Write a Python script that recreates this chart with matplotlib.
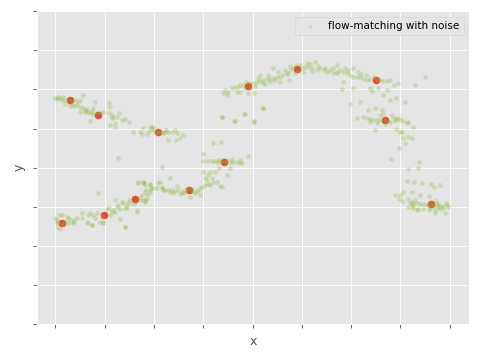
import matplotlib
matplotlib.use("Agg")
import matplotlib.pyplot as plt

plt.style.use("ggplot")

# reference (target) points
rx = [0.30, 0.87, 2.09, 3.43, 3.90, 4.91, 6.51, 6.69, 7.63, 0.14, 0.99, 1.62, 2.71]
ry = [5.72, 5.34, 4.90, 4.14, 6.10, 6.52, 6.24, 5.21, 3.07, 2.58, 2.79, 3.20, 3.42]

# samples: flow-matching with noise
gx = [
    # upper-left descending band
    0.00, 0.06, 0.10, 0.16, 0.20, 0.26, 0.33, 0.40, 0.47, 0.50, 0.57, 0.33, 0.37, 0.43, 0.50,
    0.57, 0.60, 0.64, 0.67, 0.74, 0.77, 0.81, 0.84, 0.70, 0.77, 0.91, 0.97, 1.08, 1.11, 1.08,
    1.14, 1.18, 1.25, 1.30, 1.35, 1.41, 1.50, 1.14, 1.21, 1.10, 0.70, 0.50, 0.60, 0.30, 0.20,
    1.28, 1.21, 0.03, 0.14,
    # flat band near 2
    1.58, 1.72, 1.75, 1.78, 1.85, 1.92, 1.96, 1.98, 2.02, 2.06, 2.16, 2.19, 2.22, 2.29, 2.36,
    2.43, 2.46, 2.53, 2.60, 2.45, 2.29, 1.90, 1.98, 2.10, 2.24,
    # flat band near 3.4
    3.00, 3.00, 3.10, 3.17, 3.22, 3.27, 3.34, 3.48, 3.54, 3.61, 3.68, 3.75, 3.78, 3.54, 3.48,
    3.31, 3.24, 3.20, 3.36, 3.91, 3.39, 3.63, 3.83, 4.04, 4.22, 3.75, 2.17, 3.38, 3.58, 3.44,
    3.30,
    # lower flat band near 2.7
    1.75, 1.82, 1.78, 1.92, 1.92, 1.99, 2.16, 2.23, 2.29, 2.36, 2.43, 2.49, 2.56, 2.63, 2.80,
    2.87, 2.94, 2.97, 3.04, 3.10, 3.14, 3.20, 3.27, 3.34, 3.04, 3.10, 3.00, 3.07, 3.17, 2.73,
    2.53, 2.39, 2.46, 2.33, 1.82, 1.72, 2.12, 2.33, 2.06, 2.19, 3.14, 3.38, 2.94, 2.65, 2.77,
    2.69, 2.59, 2.83, 2.89,
    # lower-left rising band
    0.03, 0.06, 0.10, 0.13, 0.23, 0.30, 0.20, 0.26, 0.37, 0.43, 0.54, 0.54, 0.67, 0.70, 0.77,
    0.81, 0.67, 0.74, 0.84, 0.87, 0.94, 0.97, 1.08, 1.11, 1.18, 1.25, 1.31, 1.31, 1.38, 1.41,
    1.45, 1.48, 1.52, 1.55, 1.41, 1.65, 1.72, 1.78, 1.85, 1.68, 1.78, 1.82, 1.92, 1.84, 1.92,
    2.09, 1.21, 1.28, 1.35, 0.08, 0.04, 0.26, 0.33, 0.37, 0.65, 0.75, 0.91, 0.96, 1.04, 1.14,
    1.21, 1.41, 1.45, 1.62, 1.82, 1.85, 1.68, 1.80, 1.94, 1.65, 2.16, 0.00, 0.05, 0.16,
    # upper rising band
    3.44, 3.51, 3.48, 3.41, 3.58, 3.65, 3.71, 3.75, 3.81, 3.95, 4.02, 4.09, 4.15, 4.22, 4.29,
    4.35, 4.42, 4.49, 4.56, 4.62, 4.69, 4.76, 4.83, 5.00, 5.06, 5.13, 5.20, 5.27, 5.30, 5.37,
    5.44, 5.51, 5.57, 5.64, 5.71, 4.42, 4.73, 4.15, 3.95, 3.75, 3.68, 4.02, 3.91, 4.22, 3.85,
    3.65, 4.02, 3.38, 4.56, 4.35, 4.22, 4.96, 5.10, 4.86, 5.03, 3.87, 4.11, 4.31, 4.52, 4.66,
    4.88, 5.17, 5.33, 5.47, 4.46, 4.25, 4.05, 3.85, 4.72, 4.93, 5.21, 4.76,
    # upper descending band
    5.64, 5.71, 5.71, 5.77, 5.84, 5.91, 5.94, 5.98, 6.04, 6.04, 6.11, 6.18, 6.25, 6.32, 6.38,
    6.59, 6.65, 6.72, 6.79, 6.86, 6.96, 5.84, 6.04, 5.81, 6.38, 6.42, 6.55, 6.72, 6.65, 6.79,
    6.92, 7.09, 7.30, 7.50, 5.98, 6.18, 6.35, 6.48, 6.62, 6.11, 6.14, 6.21, 6.47, 6.53, 6.30,
    5.88,
    # band near 6.7
    6.25, 6.32, 6.38, 6.45, 6.52, 6.59, 6.59, 6.65, 6.75, 6.82, 6.86, 6.92, 6.99, 7.06, 7.13,
    7.16, 7.26, 6.48, 6.92, 7.03, 7.16, 7.23, 7.09, 6.69, 6.52, 6.38, 6.67, 6.79, 6.89, 6.95,
    # lower-right drop and flat band
    6.99, 7.06, 6.98, 6.81, 7.38, 7.36, 7.16, 7.13, 7.28, 7.43, 7.61, 7.80, 7.69, 7.06, 6.99,
    6.89, 7.23, 7.40, 7.57, 7.03, 7.16, 7.23, 7.30, 6.98, 7.19, 7.26, 7.33, 7.40, 7.46, 7.53,
    7.67, 7.74, 7.80, 7.87, 7.94, 7.97, 7.92, 7.60, 7.70, 7.77, 7.26, 7.36, 7.46, 7.57, 7.70,
    7.80, 7.90, 7.70, 7.33, 7.16, 7.60, 7.23, 7.87, 7.56, 7.66, 7.76,
]
gy = [
    # upper-left descending band
    5.77, 5.80, 5.77, 5.80, 5.73, 5.75, 5.71, 5.73, 5.69, 5.73, 5.86, 5.63, 5.58, 5.60, 5.56,
    5.52, 5.47, 5.49, 5.43, 5.46, 5.52, 5.69, 5.39, 5.39, 5.37, 5.40, 5.43, 5.66, 5.54, 5.39,
    5.35, 5.29, 5.30, 5.39, 5.22, 5.24, 5.16, 5.26, 5.13, 5.09, 5.20, 5.43, 5.43, 5.58, 5.63,
    4.24, 5.05, 5.75, 5.73,
    # flat band near 2
    4.90, 4.92, 4.85, 5.02, 4.85, 5.05, 5.01, 5.03, 4.92, 4.88, 4.92, 4.89, 4.90, 4.92, 4.90,
    4.96, 4.89, 4.76, 4.83, 4.71, 4.71, 4.94, 4.96, 4.94, 4.96,
    # flat band near 3.4
    4.35, 4.17, 4.17, 4.17, 4.17, 4.15, 4.15, 4.19, 4.15, 4.15, 4.15, 4.19, 4.11, 3.98, 3.81,
    3.98, 3.90, 4.62, 4.65, 4.30, 5.29, 5.19, 5.36, 5.17, 5.52, 4.11, 4.02, 4.19, 4.22, 4.11,
    4.19,
    # lower flat band near 2.7
    3.30, 3.38, 3.64, 3.55, 3.43, 3.47, 3.47, 3.43, 3.43, 3.43, 3.41, 3.43, 3.38, 3.43, 3.38,
    3.43, 3.47, 3.51, 3.55, 3.58, 3.55, 3.64, 3.64, 3.53, 3.73, 3.81, 3.90, 3.68, 3.73, 3.26,
    3.32, 3.34, 3.53, 3.38, 3.13, 3.17, 3.64, 3.73, 3.47, 3.44, 3.90, 3.51, 3.30, 3.38, 3.45,
    3.48, 3.35, 3.35, 3.40,
    # lower-left rising band
    2.58, 2.49, 2.42, 2.79, 2.74, 2.68, 2.62, 2.58, 2.66, 2.70, 2.83, 2.70, 2.79, 2.83, 2.79,
    2.70, 2.59, 2.53, 2.83, 3.34, 2.74, 2.59, 2.96, 2.79, 2.92, 3.00, 2.93, 2.68, 3.09, 2.96,
    3.04, 3.13, 3.17, 3.09, 2.49, 2.92, 3.26, 3.17, 3.21, 3.60, 3.64, 3.55, 3.58, 3.43, 3.34,
    3.60, 3.17, 3.04, 3.13, 2.79, 2.66, 2.70, 2.62, 2.58, 2.60, 2.53, 2.62, 2.60, 2.94, 2.87,
    2.86, 2.47, 2.96, 3.09, 3.17, 3.30, 3.64, 3.61, 3.47, 2.87, 3.50, 2.71, 2.61, 2.56,
    # upper rising band
    5.98, 5.94, 5.86, 5.90, 6.03, 6.07, 6.07, 6.11, 6.11, 6.16, 6.16, 6.20, 6.21, 6.24, 6.27,
    6.28, 6.30, 6.32, 6.32, 6.37, 6.41, 6.50, 6.54, 6.54, 6.58, 6.58, 6.54, 6.71, 6.50, 6.54,
    6.50, 6.45, 6.50, 6.41, 6.41, 6.54, 6.24, 6.37, 6.03, 5.94, 5.93, 5.90, 5.90, 5.52, 5.36,
    5.19, 5.19, 5.30, 6.20, 6.20, 6.16, 6.62, 6.67, 6.41, 6.45, 6.19, 6.29, 6.37, 6.45, 6.50,
    6.62, 6.65, 6.60, 6.55, 6.24, 6.14, 6.09, 6.04, 6.39, 6.47, 6.47, 6.60,
    # upper descending band
    6.54, 6.62, 6.45, 6.50, 6.45, 6.41, 6.50, 6.37, 6.54, 6.32, 6.32, 6.32, 6.28, 6.24, 6.28,
    6.24, 6.21, 6.21, 6.24, 6.11, 6.16, 6.20, 6.05, 6.01, 6.03, 5.96, 6.03, 5.98, 5.87, 5.73,
    5.77, 5.69, 6.11, 6.32, 5.62, 5.69, 5.47, 5.53, 5.47, 5.28, 6.45, 6.39, 6.32, 6.24, 6.37,
    6.55,
    # band near 6.7
    5.30, 5.26, 5.24, 5.22, 5.22, 5.22, 5.35, 5.36, 5.19, 5.35, 5.26, 5.24, 5.22, 5.19, 5.13,
    5.17, 5.05, 4.96, 4.99, 4.90, 4.79, 4.75, 4.62, 5.11, 5.13, 5.17, 5.24, 5.17, 5.19, 5.27,
    # lower-right drop and flat band
    4.92, 4.75, 4.49, 4.21, 4.14, 4.00, 3.96, 3.66, 3.64, 3.61, 3.58, 3.55, 3.50, 3.38, 3.30,
    3.30, 3.37, 3.30, 3.27, 3.15, 3.21, 3.13, 3.17, 3.21, 3.09, 3.07, 3.09, 3.07, 3.07, 3.04,
    3.04, 3.04, 3.02, 3.02, 3.04, 3.00, 3.10, 3.13, 3.15, 3.09, 2.96, 2.93, 2.93, 2.92, 2.92,
    2.93, 2.85, 2.83, 2.92, 3.00, 2.96, 3.02, 2.96, 3.07, 3.02, 2.99,
]

xticks = list(range(9))
yticks = list(range(9))

fig = plt.figure(figsize=(6.4, 4.8), dpi=75)
ax = fig.add_axes([0.0765, 0.1, 0.9005, 0.8686])

ax.scatter(rx, ry, s=45, color="#E24A33", zorder=2)
ax.scatter(gx, gy, s=20, color="#8EBA42", alpha=0.3, linewidths=0,
           label="flow-matching with noise", zorder=3)

ax.set_xlim(-0.377, 8.39)
ax.set_ylim(0, 8)
ax.set_xticks(xticks)
ax.set_yticks(yticks)
ax.set_xticklabels([])
ax.set_yticklabels([])
ax.set_xlabel("x")
ax.set_ylabel("y")
ax.legend(loc="upper right", markerscale=0.6)

fig.savefig("out.png", dpi=75)
